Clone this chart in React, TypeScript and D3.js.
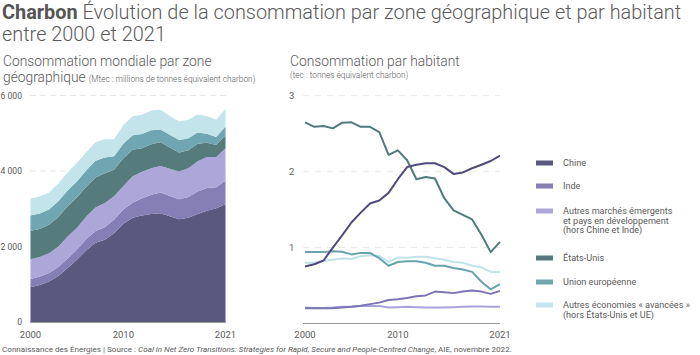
import React from "react";
import * as d3 from "d3";

const years = d3.range(2000, 2022);
const seriesKeys = ["china", "india", "emde", "us", "eu", "otherAdv"];
const seriesLabels = [
  ["Chine"],
  ["Inde"],
  ["Autres marchés émergents", "et pays en développement", "(hors Chine et Inde)"],
  ["États-Unis"],
  ["Union européenne"],
  ["Autres économies « avancées »", "(hors États-Unis et UE)"],
];
const colors = ["#5b5880", "#857fb5", "#aca7d8", "#567b7d", "#6fa6b1", "#c3e4ea"];
const lineColors = ["#4f4b7c", "#7b74b6", "#a9a3db", "#4f7b7c", "#66a3ad", "#bfe3e9"];

// Consommation mondiale (Mtec)
const chinaTotal = [920, 980, 1070, 1220, 1430, 1650, 1900, 2100, 2180, 2350, 2600, 2760, 2820, 2860, 2880, 2800, 2720, 2760, 2860, 2950, 3010, 3120];
const indiaTotal = [220, 225, 230, 240, 255, 270, 290, 310, 330, 360, 380, 400, 460, 510, 550, 540, 530, 550, 600, 600, 560, 620];
const emdeTotal = [520, 520, 520, 540, 580, 580, 600, 620, 640, 620, 620, 700, 700, 700, 700, 720, 740, 760, 800, 820, 800, 860];
const usTotal = [760, 740, 760, 780, 800, 800, 790, 800, 790, 700, 740, 700, 620, 640, 630, 560, 500, 480, 460, 380, 320, 350];
const euTotal = [400, 410, 400, 420, 420, 420, 430, 440, 420, 360, 380, 390, 380, 370, 340, 340, 330, 320, 300, 240, 210, 230];
const otherAdvTotal = [450, 450, 450, 470, 480, 490, 490, 490, 480, 450, 500, 500, 510, 520, 520, 500, 490, 490, 480, 470, 460, 470];

// Consommation par habitant (tec)
const chinaPc = [0.75, 0.78, 0.83, 1.0, 1.16, 1.33, 1.46, 1.58, 1.62, 1.72, 1.9, 2.06, 2.09, 2.11, 2.11, 2.06, 1.97, 1.99, 2.045, 2.09, 2.14, 2.21];
const indiaPc = [0.2, 0.2, 0.2, 0.2, 0.21, 0.22, 0.235, 0.255, 0.275, 0.31, 0.32, 0.335, 0.36, 0.37, 0.42, 0.41, 0.4, 0.42, 0.435, 0.42, 0.39, 0.43];
const emdePc = [0.21, 0.205, 0.205, 0.21, 0.22, 0.22, 0.23, 0.23, 0.23, 0.21, 0.215, 0.22, 0.215, 0.21, 0.21, 0.21, 0.215, 0.22, 0.225, 0.225, 0.22, 0.22];
const usPc = [2.65, 2.59, 2.6, 2.57, 2.645, 2.65, 2.59, 2.59, 2.52, 2.22, 2.28, 2.15, 1.9, 1.93, 1.91, 1.65, 1.49, 1.43, 1.37, 1.17, 0.94, 1.075];
const euPc = [0.94, 0.94, 0.94, 0.95, 0.945, 0.91, 0.93, 0.93, 0.86, 0.76, 0.81, 0.82, 0.82, 0.8, 0.76, 0.76, 0.73, 0.71, 0.68, 0.55, 0.45, 0.52];
const otherAdvPc = [0.8, 0.8, 0.825, 0.84, 0.855, 0.85, 0.885, 0.9, 0.89, 0.81, 0.87, 0.865, 0.88, 0.88, 0.86, 0.84, 0.81, 0.8, 0.76, 0.74, 0.68, 0.675];

const leftTicks = [0, 2000, 4000, 6000];
const rightTicks = [1, 2, 3];
const xTickYears = [2000, 2010, 2021];

const totals = [chinaTotal, indiaTotal, emdeTotal, usTotal, euTotal, otherAdvTotal];
const perCapita = [chinaPc, indiaPc, emdePc, usPc, euPc, otherAdvPc];

const FONT = "Roboto, 'Open Sans', sans-serif";
const TXT = "#5a5a5a";

const fmt = (v: number) => (v === 0 ? "0" : d3.format(",")(v).replace(",", " "));

export default function App() {
  const rows = years.map((y, i) => {
    const r: any = { year: y };
    seriesKeys.forEach((k, j) => (r[k] = totals[j][i]));
    return r;
  });
  const stacked = d3.stack().keys(seriesKeys)(rows);

  const xL = d3.scaleLinear().domain([2000, 2021]).range([30.5, 225.5]);
  const yL = d3.scaleLinear().domain([0, 6000]).range([322, 95.5]);
  const area = d3
    .area<any>()
    .x((d) => xL(d.data.year))
    .y0((d) => yL(d[0]))
    .y1((d) => yL(d[1]));

  const xR = d3.scaleLinear().domain([2000, 2021]).range([305, 500]);
  const yR = d3.scaleLinear().domain([0, 3]).range([323.5, 95.7]);
  const line = d3
    .line<number>()
    .x((_, i) => xR(years[i]))
    .y((d) => yR(d));

  const legendY = [163, 186, 211, 258, 282, 305];
  const drawOrder = [2, 1, 5, 4, 3, 0];

  return (
    <div style={{ position: "absolute", left: 0, top: 0 }}>
      <svg width={700} height={355} style={{ display: "block", fontFamily: FONT }}>
        <rect width={700} height={355} fill="#fff" />
        {/* Title */}
        <text x={2} y={19} fontSize={19.9} fill={TXT} fontWeight={300}>
          <tspan fontWeight={700} fill="#555">Charbon</tspan>
          <tspan> Évolution de la consommation par zone géographique et par habitant</tspan>
        </text>
        <text x={2} y={41} fontSize={19.9} fill={TXT} fontWeight={300}>
          entre 2000 et 2021
        </text>

        {/* Left subtitle */}
        <text x={3} y={66} fontSize={13.8} fill={TXT} fontWeight={300}>
          Consommation mondiale par zone
        </text>
        <text x={3} y={82} fontSize={13.8} fill={TXT} fontWeight={300}>
          géographique
          <tspan fontSize={8.3} dx={3}>(Mtec : millions de tonnes équivalent charbon)</tspan>
        </text>

        {/* Right subtitle */}
        <text x={290} y={66} fontSize={13.8} fill={TXT} fontWeight={300}>
          Consommation par habitant
        </text>
        <text x={290} y={78} fontSize={8.3} fill={TXT} fontWeight={300}>
          (tec : tonnes équivalent charbon)
        </text>

        {/* Left chart */}
        {leftTicks.map((t) => (
          <g key={"lt" + t}>
            <line x1={30} x2={226} y1={yL(t)} y2={yL(t)} stroke="#e6e6e6" strokeDasharray="6,4" />
            <text x={22} y={yL(t)} dy="0.35em" textAnchor="end" fontSize={8.6} fill={TXT}>
              {fmt(t)}
            </text>
          </g>
        ))}
        {stacked.map((s, j) => (
          <path key={"a" + j} d={area(s as any) || ""} fill={colors[j]} />
        ))}
        <line x1={30} x2={226} y1={322.5} y2={322.5} stroke="#9a9a9a" strokeWidth={1} />
        {xTickYears.map((y) => (
          <text key={"xl" + y} x={xL(y)} y={338} textAnchor="middle" fontSize={9.5} fill={TXT}>
            {y}
          </text>
        ))}

        {/* Right chart */}
        {rightTicks.map((t) => (
          <g key={"rt" + t}>
            <line x1={303} x2={500} y1={yR(t)} y2={yR(t)} stroke="#e8e8e8" strokeDasharray="6,6" />
            <text x={289} y={yR(t)} dy="0.35em" fontSize={9.5} fill={TXT}>
              {t}
            </text>
          </g>
        ))}
        <line x1={303} x2={500} y1={323.5} y2={323.5} stroke="#9a9a9a" strokeWidth={1} />
        {drawOrder.map((j) => (
          <path
            key={"l" + j}
            d={line(perCapita[j]) || ""}
            fill="none"
            stroke={lineColors[j]}
            strokeWidth={2}
            strokeLinejoin="round"
          />
        ))}
        {xTickYears.map((y) => (
          <text key={"xr" + y} x={xR(y)} y={338} textAnchor="middle" fontSize={9.5} fill={TXT}>
            {y}
          </text>
        ))}

        {/* Legend */}
        {seriesLabels.map((lab, j) => (
          <g key={"lg" + j}>
            <rect x={536} y={legendY[j] - 2.5} width={17} height={5} fill={colors[j]} />
            {lab.map((l, k) => (
              <text key={k} x={563} y={legendY[j] + k * 9.4} dy="0.35em" fontSize={9.1} fill={TXT}>
                {l}
              </text>
            ))}
          </g>
        ))}

        {/* Footer */}
        <text x={2} y={352} fontSize={8.1} fill={TXT}>
          Connaissance des Énergies | Source :{" "}
          <tspan fontStyle="italic">
            Coal in Net Zero Transitions: Strategies for Rapid, Secure and People-Centred Change
          </tspan>
          , AIE, novembre 2022.
        </text>
      </svg>
    </div>
  );
}
